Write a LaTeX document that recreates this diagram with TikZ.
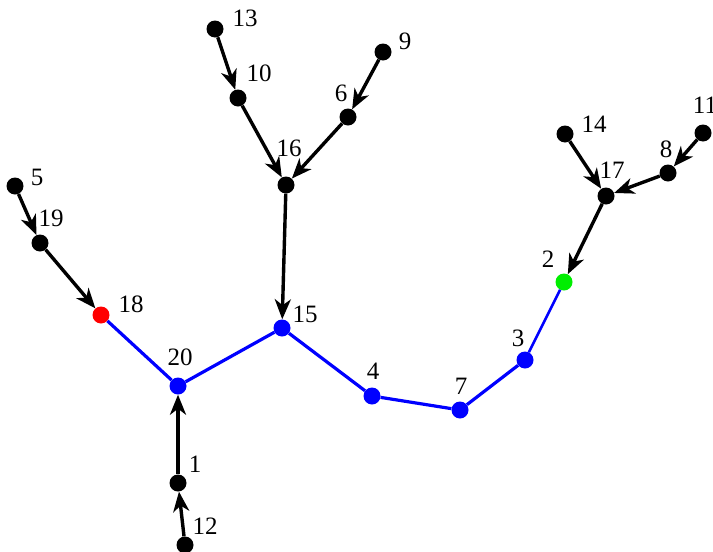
\documentclass[tikz,border=0pt]{standalone}
\usepackage{fontspec}
\setmainfont{Liberation Serif}
\usetikzlibrary{arrows.meta}
\definecolor{pblue}{RGB}{0,0,255}
\definecolor{pgreen}{RGB}{0,238,0}
\definecolor{pred}{RGB}{255,0,0}
\begin{document}
\begin{tikzpicture}[x=1pt,y=-1pt,
  vtx/.style={circle,fill=black,inner sep=0pt,minimum size=17pt},
  lbl/.style={inner sep=0pt,font=\fontsize{25}{25}\selectfont},
  arr/.style={line width=3.4pt,-{Stealth[length=20pt,width=16pt,inset=6pt]}},
  bl/.style={line width=3.2pt,draw=pblue}]
\useasboundingbox (0,0) rectangle (713,552);
% nodes
\node[vtx] (n13) at (215,29) {};
\node[vtx] (n10) at (238,98) {};
\node[vtx] (n9) at (383,52) {};
\node[vtx] (n6) at (348,117) {};
\node[vtx] (n16) at (286,185) {};
\node[vtx] (n5) at (15,186) {};
\node[vtx] (n19) at (40,243) {};
\node[vtx,fill=pred] (n18) at (101,315) {};
\node[vtx,fill=pblue] (n20) at (178,386) {};
\node[vtx,fill=pblue] (n15) at (282,328) {};
\node[vtx,fill=pblue] (n4) at (372,396) {};
\node[vtx,fill=pblue] (n7) at (460,410) {};
\node[vtx,fill=pblue] (n3) at (525,360) {};
\node[vtx,fill=pgreen] (n2) at (564,282) {};
\node[vtx] (n1) at (178,483) {};
\node[vtx] (n12) at (185,545) {};
\node[vtx] (n14) at (565,134) {};
\node[vtx] (n11) at (703,133) {};
\node[vtx] (n8) at (668,173) {};
\node[vtx] (n17) at (606,196) {};
% labels
\node[lbl] (l13) at (245,18) {13};
\node[lbl] (l10) at (259,73) {10};
\node[lbl] (l9) at (405,41) {9};
\node[lbl] (l6) at (341,93) {6};
\node[lbl] (l16) at (289,148) {16};
\node[lbl] (l5) at (37,177) {5};
\node[lbl] (l19) at (51,218) {19};
\node[lbl] (l18) at (131,304) {18};
\node[lbl] (l20) at (180,357) {20};
\node[lbl] (l15) at (305,314) {15};
\node[lbl] (l4) at (373,371) {4};
\node[lbl] (l7) at (461,386) {7};
\node[lbl] (l3) at (518,338) {3};
\node[lbl] (l2) at (548,259) {2};
\node[lbl] (l1) at (195,464) {1};
\node[lbl] (l12) at (205,526) {12};
\node[lbl] (l14) at (594,124) {14};
\node[lbl] (l11) at (705,105) {11};
\node[lbl] (l8) at (666,149) {8};
\node[lbl] (l17) at (612,170) {17};
% blue path
\draw[bl] (n18) -- (n20);
\draw[bl] (n20) -- (n15);
\draw[bl] (n15) -- (n4);
\draw[bl] (n4) -- (n7);
\draw[bl] (n7) -- (n3);
\draw[bl,line width=2.6pt] (n3) -- (n2);
% arrows
\draw[arr] (n13) -- (n10);
\draw[arr] (n10) -- (n16);
\draw[arr] (n9) -- (n6);
\draw[arr] (n6) -- (n16);
\draw[arr] (n16) -- (n15);
\draw[arr] (n5) -- (n19);
\draw[arr] (n19) -- (n18);
\draw[arr] (n1) -- (n20);
\draw[arr] (n12) -- (n1);
\draw[arr] (n14) -- (n17);
\draw[arr] (n11) -- (n8);
\draw[arr] (n8) -- (n17);
\draw[arr] (n17) -- (n2);
\end{tikzpicture}
\end{document}
